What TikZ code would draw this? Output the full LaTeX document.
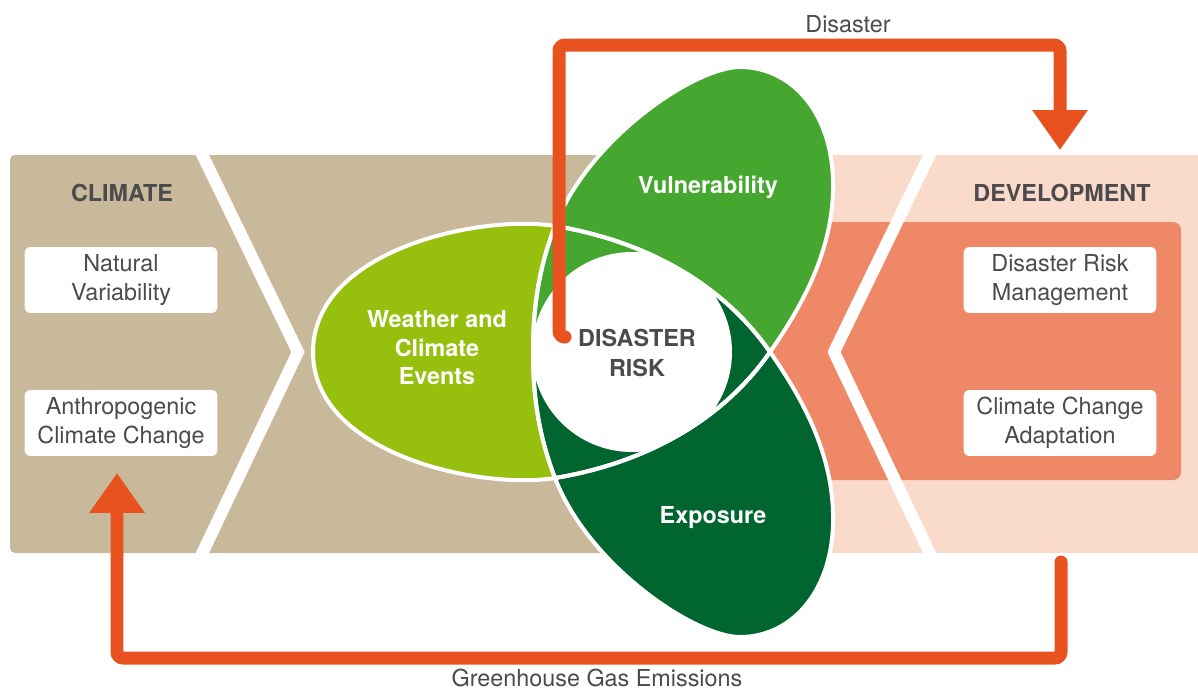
\documentclass[tikz,border=0pt]{standalone}
\usepackage{fontspec}
\setmainfont{TeX Gyre Heros}
\usetikzlibrary{arrows.meta}

\definecolor{climatetan}{HTML}{C9B99B}
\definecolor{devlight}{HTML}{FADBCB}
\definecolor{devdark}{HTML}{EF8866}
\definecolor{weathergreen}{HTML}{97BF0D}
\definecolor{vulngreen}{HTML}{45A72F}
\definecolor{expogreen}{HTML}{00652E}
\definecolor{flowred}{HTML}{E8521F}
\definecolor{textgrey}{HTML}{4B4B4D}

% outlines of the three overlapping leaves (pixel units)
\newcommand{\weatherpath}{(770,352) .. controls (720,280) and (640,240) .. (555,226)
    .. controls (480,214) and (313,250) .. (313,352)
    .. controls (313,454) and (480,490) .. (555,478)
    .. controls (640,464) and (720,424) .. (770,352) -- cycle}
\newcommand{\vulnpath}{(555,478) .. controls (640,464) and (720,424) .. (770,352)
    .. controls (800,309) and (835,250) .. (833,180)
    .. controls (831,110) and (790,67) .. (740,67)
    .. controls (695,67) and (589,138) .. (555,226)
    .. controls (538,270) and (533,310) .. (533,352)
    .. controls (533,394) and (538,434) .. (555,478) -- cycle}
\newcommand{\expopath}{(555,226) .. controls (640,240) and (720,280) .. (770,352)
    .. controls (800,395) and (835,454) .. (833,524)
    .. controls (831,594) and (790,637) .. (740,637)
    .. controls (695,637) and (589,566) .. (555,478)
    .. controls (538,434) and (533,394) .. (533,352)
    .. controls (533,310) and (538,270) .. (555,226) -- cycle}

\tikzset{
    heading/.style={text=textgrey, font=\fontsize{13.3}{16}\selectfont\bfseries},
    boxlabel/.style={fill=white, rounded corners=0.12cm, minimum width=3.86cm,
        minimum height=1.32cm, inner sep=0pt, align=center, text=textgrey,
        font=\fontsize{13.3}{16.4}\selectfont},
    leaflabel/.style={text=white, align=center, font=\fontsize{13.3}{16.2}\selectfont\bfseries},
    risklabel/.style={text=textgrey, align=center, font=\fontsize{13.3}{16.6}\selectfont\bfseries},
    flowlabel/.style={text=textgrey, inner sep=1pt, font=\fontsize{13.3}{16}\selectfont},
    chevron/.style={draw=white, line width=0.24cm},
    outline/.style={draw=white, line width=0.08cm},
    flow/.style={draw=flowred, line width=0.26cm, rounded corners=0.12cm, line cap=round,
        -{Triangle[length=0.8cm, width=1.06cm]}},
}

\begin{document}
\begin{tikzpicture}[x=0.02cm, y=-0.02cm]
    \useasboundingbox (0,0) rectangle (1198,690);

    % bands
    \fill[climatetan, rounded corners=0.1cm] (10,155) rectangle (700,553);
    \fill[devlight] (700,155) rectangle (1198,553);
    \fill[devdark, rounded corners=0.16cm] (700,222) rectangle (1181,480);
    \draw[chevron, line join=miter] (200,150) -- (298,352) -- (200,558);
    \draw[chevron, line join=round] (932,150) -- (834,352) -- (932,558);

    % leaves
    \fill[weathergreen] \weatherpath;
    \fill[vulngreen] \vulnpath;
    \fill[expogreen] \expopath;
    \begin{scope}
        \clip \weatherpath;
        \begin{scope}
            \clip \expopath;
            \fill[vulngreen] (500,150) -- (690,150) -- (706,287) -- (632,352) -- (500,352) -- cycle;
        \end{scope}
        \fill[white] (632,352) circle[radius=100];
    \end{scope}
    \path[outline] \vulnpath;
    \path[outline] \expopath;
    \path[outline] \weatherpath;

    % texts
    \node[heading]   (climate)     at (122,193)  {CLIMATE};
    \node[heading]   (development) at (1062,193) {DEVELOPMENT};
    \node[boxlabel]  (natvar)      at (121,280)  {Natural\\Variability};
    \node[boxlabel]  (anthro)      at (121,423)  {Anthropogenic\\Climate Change};
    \node[boxlabel]  (drm)         at (1060,280) {Disaster Risk\\Management};
    \node[boxlabel]  (cca)         at (1060,423) {Climate Change\\Adaptation};
    \node[leaflabel] (weather)     at (437,348)  {Weather and\\Climate\\Events};
    \node[leaflabel] (vuln)        at (708,187)  {Vulnerability};
    \node[leaflabel] (expo)        at (713,518)  {Exposure};
    \node[risklabel] (dr)          at (637,353)  {DISASTER\\RISK};

    % feedback arrows
    \coordinate (drdot)    at (565,337);
    \coordinate (devtop)   at (1060,150);
    \coordinate (devbot)   at (1061,562);
    \coordinate (climtip)  at (117,473);
    \draw[flow] (drdot) -| (559,45) -| (devtop);
    \draw[flow] (devbot) |- (117,658) -- (climtip);
    \node[flowlabel] (disaster) at (848,24)  {Disaster};
    \node[flowlabel] (ghg)      at (597,678) {Greenhouse Gas Emissions};
\end{tikzpicture}
\end{document}
